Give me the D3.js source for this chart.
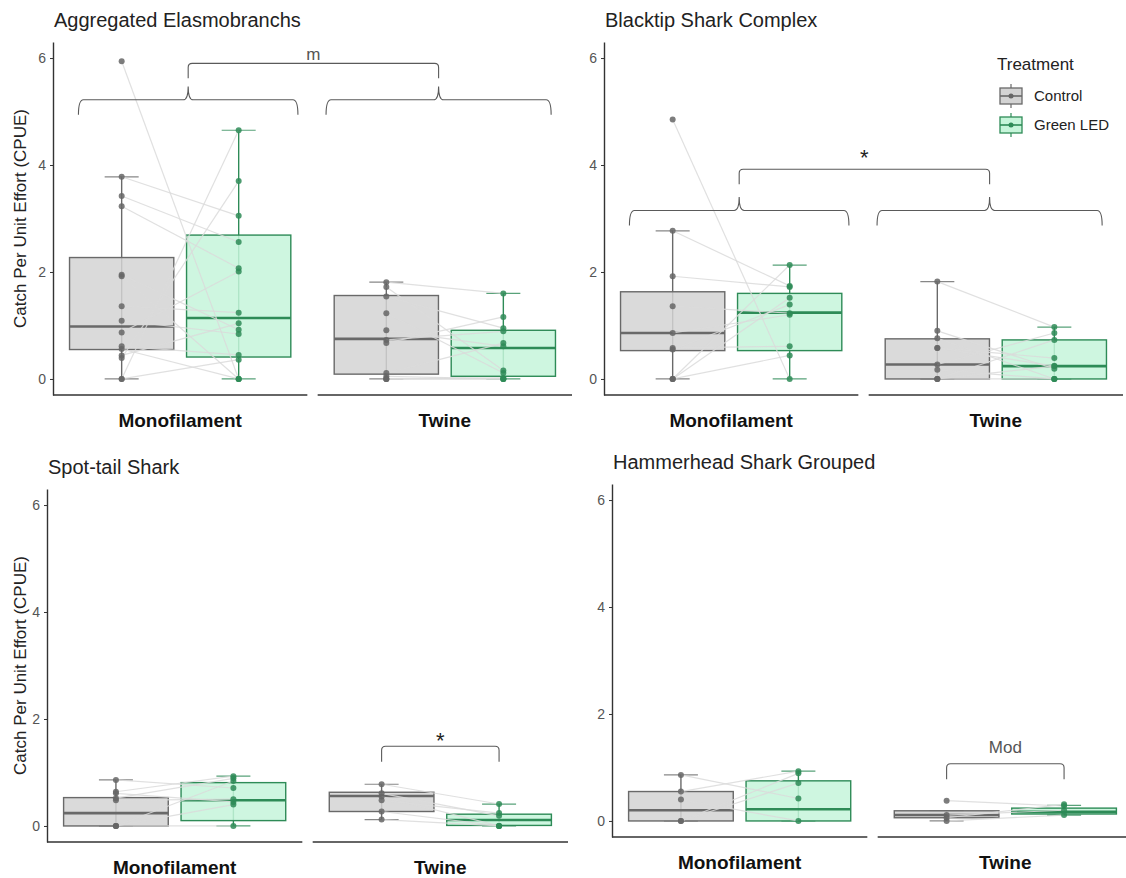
<!DOCTYPE html>
<html>
<head>
<meta charset="utf-8">
<script src="https://cdn.jsdelivr.net/npm/d3@7"></script>
<style>
  body { margin: 0; background: #fff; }
  svg { font-family: "Liberation Sans", Arial, sans-serif; }
</style>
</head>
<body>
<div id="chart"></div>
<script>
// data
var panelTitles = ["Aggregated Elasmobranchs", "Blacktip Shark Complex", "Spot-tail Shark", "Hammerhead Shark Grouped"];
var gearTypes = ["Monofilament", "Twine"];
var treatments = ["Control", "Green LED"];
var yTicks = [0, 2, 4, 6];

// paired trips: controlCPUE[panel][gear][i] goes with greenCPUE[panel][gear][i]
var controlCPUE = [
  [[5.94, 3.78, 3.42, 3.23, 1.95, 1.92, 1.36, 1.09, 0.87, 0.61, 0.56, 0.44, 0.39, 0, 0],
   [1.81, 1.72, 1.54, 1.23, 0.91, 0.73, 0.67, 0.11, 0.05, 0, 0, 0]],
  [[4.85, 2.77, 1.92, 1.36, 0.86, 0.58, 0.55, 0, 0, 0],
   [1.82, 0.90, 0.76, 0.58, 0.58, 0.27, 0.17, 0, 0, 0]],
  [[0.86, 0.64, 0.61, 0.52, 0.48, 0, 0, 0],
   [0.78, 0.61, 0.55, 0.48, 0.27, 0.12]],
  [[0.86, 0.55, 0.40, 0, 0],
   [0.38, 0.11, 0.06, 0]]
];
var greenCPUE = [
  [[0, 3.05, 2.56, 2.07, 0.92, 0, 1.24, 0.84, 2.01, 0.45, 0, 1.04, 3.70, 4.65, 0.36],
   [1.60, 0.16, 0.95, 0.11, 0.61, 0.89, 1.16, 0.67, 0, 0, 0.02, 0]],
  [[0, 1.74, 1.72, 1.23, 1.20, 0.61, 1.39, 2.13, 1.52, 0.44],
   [0.97, 0.19, 0, 0.39, 0.24, 0.86, 0, 0.73, 0.24, 0]],
  [[0.71, 0.93, 0.45, 0.89, 0.50, 0.84, 0.40, 0],
   [0.41, 0.19, 0, 0.24, 0, 0]],
  [[0.42, 0.93, 0, 0.89, 0.71],
   [0.28, 0.20, 0.31, 0.11]]
];

// box stats [lower whisker, q1, median, q3, upper whisker]
var controlBox = [
  [[0, 0.55, 0.98, 2.27, 3.78], [0, 0.09, 0.75, 1.56, 1.81]],
  [[0, 0.53, 0.86, 1.63, 2.77], [0, 0, 0.27, 0.75, 1.82]],
  [[0, 0, 0.24, 0.53, 0.86], [0.12, 0.27, 0.56, 0.63, 0.78]],
  [[0, 0, 0.20, 0.55, 0.86], [0, 0.06, 0.11, 0.19, 0.19]]
];
var greenBox = [
  [[0, 0.41, 1.14, 2.69, 4.65], [0, 0.05, 0.58, 0.91, 1.60]],
  [[0, 0.53, 1.24, 1.60, 2.13], [0, 0, 0.24, 0.73, 0.97]],
  [[0, 0.10, 0.48, 0.81, 0.93], [0, 0.01, 0.11, 0.22, 0.41]],
  [[0, 0, 0.22, 0.75, 0.93], [0.11, 0.13, 0.17, 0.24, 0.29]]
];

// significance annotations
var sigLabels = ["m", "*", "*", "Mod"];
var sigLevels = [5.90, 3.92, 1.49, 1.07];
var braceLevels = [5.22, 3.15, null, null];

var width = 1126;
var height = 878;
var svg = d3.select("#chart")
    .append("svg")
    .attr("width", width)
    .attr("height", height);

// panel frames (pixels)
var layout = [
  {x0: 53, x1: 572, top: 42, bottom: 395, titleY: 27, yTitle: true},
  {x0: 604, x1: 1123, top: 42, bottom: 395, titleY: 27, yTitle: false},
  {x0: 47, x1: 568, top: 489, bottom: 842, titleY: 474, yTitle: true},
  {x0: 612, x1: 1133, top: 484, bottom: 837, titleY: 469, yTitle: false}
];

var strokeCol = {"Control": "#696969", "Green LED": "#2e8b57"};
var fillCol = {"Control": "#d3d3d3", "Green LED": "#c6f5da"};
var pointCol = {"Control": "#666666", "Green LED": "#2e8b57"};
var bracketCol = "#5a5a5a";

function bracePath(xa, xb, yLine, yEnd, yPeak) {
    var r = 5, xc = (xa + xb) / 2;
    return "M" + xa + "," + yEnd +
        "Q" + xa + "," + yLine + " " + (xa + r) + "," + yLine +
        "L" + (xc - r) + "," + yLine +
        "Q" + xc + "," + yLine + " " + xc + "," + yPeak +
        "Q" + xc + "," + yLine + " " + (xc + r) + "," + yLine +
        "L" + (xb - r) + "," + yLine +
        "Q" + xb + "," + yLine + " " + xb + "," + yEnd;
}

function bracketPath(xa, xb, yLine, yEnd) {
    var r = 4;
    return "M" + xa + "," + yEnd +
        "L" + xa + "," + (yLine + r) +
        "Q" + xa + "," + yLine + " " + (xa + r) + "," + yLine +
        "L" + (xb - r) + "," + yLine +
        "Q" + xb + "," + yLine + " " + xb + "," + (yLine + r) +
        "L" + xb + "," + yEnd;
}

function sigText(g, x, yPix, label) {
    var star = label === "*";
    g.append("text")
        .attr("x", x)
        .attr("y", star ? yPix + 13 : yPix + 6)
        .attr("text-anchor", "middle")
        .attr("font-size", star ? 22 : 17)
        .attr("fill", star ? "#222" : "#555")
        .text(label);
}

panelTitles.forEach(function(title, p) {
    var L = layout[p];
    var g = svg.append("g");

    var y = d3.scaleLinear().domain([-0.3, 6.3]).range([L.bottom, L.top]);
    var gearX = d3.scaleBand().domain(gearTypes).range([L.x0, L.x1]).paddingInner(0.039);
    var trtX = d3.scaleBand().domain(treatments).range([0, gearX.bandwidth()])
        .paddingInner(0.109).paddingOuter(0.1413);
    var bw = trtX.bandwidth();

    function cx(gear, trt) {
        return gearX(gear) + trtX(trt) + bw / 2;
    }

    // title
    g.append("text")
        .attr("x", L.x0 + 1)
        .attr("y", L.titleY)
        .attr("font-size", 20)
        .attr("fill", "#222")
        .text(title);

    // y axis
    var yAxis = g.append("g")
        .attr("transform", "translate(" + L.x0 + ",0)")
        .call(d3.axisLeft(y).tickValues(yTicks).tickFormat(d3.format("d"))
            .tickSize(3).tickSizeOuter(0).tickPadding(4));
    yAxis.select(".domain").attr("stroke", "#333").attr("stroke-width", 1.4);
    yAxis.selectAll(".tick line").attr("stroke", "#333");
    yAxis.selectAll(".tick text").attr("fill", "#555").attr("font-size", 14)
        .attr("font-family", "Liberation Sans, Arial, sans-serif");

    if (L.yTitle) {
        g.append("text")
            .attr("transform", "translate(20," + (L.top + L.bottom) / 2 + ") rotate(-90)")
            .attr("text-anchor", "middle")
            .attr("dy", "0.35em")
            .attr("font-size", 17)
            .attr("fill", "#222")
            .text("Catch Per Unit Effort (CPUE)");
    }

    gearTypes.forEach(function(gear, gi) {
        var gx = gearX(gear);

        // x axis line per facet
        g.append("line")
            .attr("x1", gx).attr("x2", gx + gearX.bandwidth())
            .attr("y1", L.bottom).attr("y2", L.bottom)
            .attr("stroke", "#333").attr("stroke-width", 1.4);

        g.append("text")
            .attr("x", gx + gearX.bandwidth() / 2)
            .attr("y", L.bottom + 32)
            .attr("text-anchor", "middle")
            .attr("font-size", 19)
            .attr("font-weight", "bold")
            .attr("fill", "#111")
            .text(gear);

        var boxes = [controlBox[p][gi], greenBox[p][gi]];

        // whiskers with caps
        treatments.forEach(function(trt, ti) {
            var s = boxes[ti], x = cx(gear, trt);
            g.append("line")
                .attr("x1", x).attr("x2", x)
                .attr("y1", y(s[0])).attr("y2", y(s[4]))
                .attr("stroke", strokeCol[trt]).attr("stroke-width", 1.4);
            [s[0], s[4]].forEach(function(v) {
                g.append("line")
                    .attr("x1", x - 17).attr("x2", x + 17)
                    .attr("y1", y(v)).attr("y2", y(v))
                    .attr("stroke", strokeCol[trt]).attr("stroke-width", 1.2)
                    .attr("stroke-opacity", 0.8);
            });
        });

        // boxes
        treatments.forEach(function(trt, ti) {
            var s = boxes[ti], x0 = gx + trtX(trt);
            g.append("rect")
                .attr("x", x0).attr("y", y(s[3]))
                .attr("width", bw).attr("height", Math.max(y(s[1]) - y(s[3]), 0.5))
                .attr("fill", fillCol[trt]).attr("fill-opacity", 0.85)
                .attr("stroke", strokeCol[trt]).attr("stroke-width", 1.4);
            g.append("line")
                .attr("x1", x0).attr("x2", x0 + bw)
                .attr("y1", y(s[2])).attr("y2", y(s[2]))
                .attr("stroke", strokeCol[trt]).attr("stroke-width", 2.6);
        });

        // paired trip lines
        var ctrl = controlCPUE[p][gi], grn = greenCPUE[p][gi];
        var xc = cx(gear, "Control"), xg = cx(gear, "Green LED");
        g.selectAll(null)
            .data(d3.zip(ctrl, grn))
            .enter()
            .append("line")
            .attr("x1", xc).attr("y1", function(d) { return y(d[0]); })
            .attr("x2", xg).attr("y2", function(d) { return y(d[1]); })
            .attr("stroke", "#dadada").attr("stroke-width", 1.2).attr("stroke-opacity", 0.85);

        // points
        [ctrl, grn].forEach(function(vals, ti) {
            var trt = treatments[ti];
            g.selectAll(null)
                .data(vals)
                .enter()
                .append("circle")
                .attr("cx", cx(gear, trt))
                .attr("cy", function(d) { return y(d); })
                .attr("r", 3)
                .attr("fill", pointCol[trt])
                .attr("fill-opacity", 0.85);
        });
    });

    // significance annotations
    if (braceLevels[p] !== null) {
        var fr = [[0.10, 0.963], [0.033, 0.918]];
        var peaks = [];
        gearTypes.forEach(function(gear, gi) {
            var xa = gearX(gear) + fr[gi][0] * gearX.bandwidth();
            var xb = gearX(gear) + fr[gi][1] * gearX.bandwidth();
            peaks.push((xa + xb) / 2);
            g.append("path")
                .attr("d", bracePath(xa, xb, y(braceLevels[p]), y(braceLevels[p] - 0.28), y(braceLevels[p] + 0.25)))
                .attr("fill", "none").attr("stroke", bracketCol).attr("stroke-width", 1.1);
        });
        g.append("path")
            .attr("d", bracketPath(peaks[0], peaks[1], y(sigLevels[p]), y(sigLevels[p] - 0.28)))
            .attr("fill", "none").attr("stroke", bracketCol).attr("stroke-width", 1.1);
        sigText(g, (peaks[0] + peaks[1]) / 2, y(sigLevels[p] + (sigLabels[p] === "*" ? 0.33 : 0.18)), sigLabels[p]);
    } else {
        var xa = cx("Twine", "Control"), xb = cx("Twine", "Green LED");
        g.append("path")
            .attr("d", bracketPath(xa, xb, y(sigLevels[p]), y(sigLevels[p] - 0.29)))
            .attr("fill", "none").attr("stroke", bracketCol).attr("stroke-width", 1.1);
        sigText(g, (xa + xb) / 2, y(sigLevels[p] + (sigLabels[p] === "*" ? 0.21 : 0.31)), sigLabels[p]);
    }

    // legend on the Blacktip panel
    if (p === 1) {
        var lg = g.append("g");
        lg.append("text")
            .attr("x", 997).attr("y", 70)
            .attr("font-size", 17).attr("fill", "#222")
            .text("Treatment");
        treatments.forEach(function(trt, ti) {
            var ky = 96 + ti * 29;
            var kx = 1011;
            lg.append("line")
                .attr("x1", kx).attr("x2", kx)
                .attr("y1", ky - 12).attr("y2", ky + 12)
                .attr("stroke", strokeCol[trt]).attr("stroke-width", 1.2);
            lg.append("rect")
                .attr("x", kx - 11).attr("y", ky - 8)
                .attr("width", 22).attr("height", 16)
                .attr("fill", fillCol[trt]).attr("stroke", strokeCol[trt]).attr("stroke-width", 1.3);
            lg.append("line")
                .attr("x1", kx - 11).attr("x2", kx + 11)
                .attr("y1", ky).attr("y2", ky)
                .attr("stroke", strokeCol[trt]).attr("stroke-width", 1.6);
            lg.append("circle")
                .attr("cx", kx).attr("cy", ky).attr("r", 2.5)
                .attr("fill", pointCol[trt]);
            lg.append("text")
                .attr("x", 1034).attr("y", ky + 5)
                .attr("font-size", 15).attr("fill", "#222")
                .text(trt);
        });
    }
});
</script>
</body>
</html>
